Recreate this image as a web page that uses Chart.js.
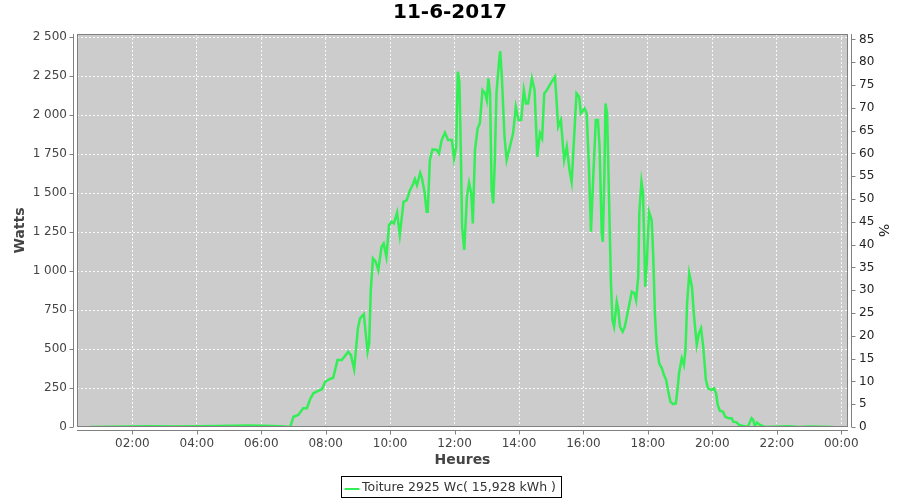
<!DOCTYPE html>
<html><head><meta charset="utf-8">
<script src="https://cdn.jsdelivr.net/npm/chart.js@4.4.0/dist/chart.umd.min.js"></script>
<style>html,body{margin:0;padding:0;background:#fff}canvas{display:block}</style>
</head><body>
<canvas id="c" width="900" height="500"></canvas>
<script>
const chartTitle = '11-6-2017';
const seriesLabel = 'Toiture 2925 Wc( 15,928 kWh )';
const xTitle = 'Heures';
const yTitle = 'Watts';
const y2Title = '%';

const times = [
  "00:41","02:33","03:19","04:06","05:07","05:35","06:03","06:35","06:54","07:00",
  "07:09","07:18","07:25","07:31","07:37","07:46","07:53","07:59","08:08","08:14",
  "08:22","08:30","08:42","08:47","08:53","09:00","09:04","09:11","09:18","09:21",
  "09:24","09:28","09:33","09:38","09:44","09:48","09:53","09:58","10:03","10:07",
  "10:13","10:18","10:25","10:31","10:37","10:43","10:46","10:50","10:56","10:59",
  "11:04","11:08","11:10","11:14","11:19","11:27","11:31","11:36","11:42","11:48",
  "11:55","11:59","12:03","12:06","12:09","12:12","12:14","12:18","12:23","12:27",
  "12:31","12:34","12:38","12:43","12:47","12:52","12:57","13:00","13:03","13:06",
  "13:09","13:12","13:15","13:18","13:23","13:25","13:28","13:33","13:37","13:43",
  "13:49","13:54","13:59","14:04","14:09","14:13","14:17","14:24","14:29","14:34",
  "14:39","14:43","14:47","14:52","14:59","15:07","15:13","15:18","15:24","15:29",
  "15:34","15:38","15:42","15:47","15:52","15:55","16:02","16:06","16:10","16:14",
  "16:18","16:23","16:27","16:30","16:34","16:36","16:39","16:41","16:44","16:48",
  "16:51","16:54","16:57","17:02","17:05","17:08","17:13","17:17","17:22","17:27",
  "17:30","17:35","17:38","17:42","17:44","17:48","17:51","17:55","17:58","18:02",
  "18:07","18:10","18:13","18:16","18:21","18:26","18:30","18:34","18:38","18:42",
  "18:47","18:52","18:55","18:58","19:03","19:07","19:10","19:13","19:17","19:22",
  "19:26","19:31","19:35","19:39","19:43","19:48","19:52","19:59","20:03","20:07",
  "20:10","20:14","20:20","20:24","20:30","20:36","20:39","20:45","20:50","20:58",
  "21:06","21:13","21:16","21:19","21:23","21:29","21:38","22:21","22:43","23:02",
  "23:45"
];
const watts = [
  0,5,4,5,8,10,8,5,0,66,
  77,120,120,178,216,231,242,290,308,316,
  429,429,483,461,370,633,697,724,483,536,
  878,1081,1060,1006,1156,1177,1092,1295,1316,1305,
  1374,1231,1444,1455,1519,1560,1590,1550,1630,1600,
  1508,1380,1380,1712,1780,1776,1754,1840,1887,1840,
  1840,1722,1797,2278,2213,1712,1284,1135,1476,1566,
  1498,1305,1776,1915,1946,2160,2139,2096,2235,2139,
  1519,1434,1712,2139,2352,2410,2246,1861,1712,1797,
  1883,2053,1968,1968,2160,2075,2075,2235,2160,1733,
  1883,1851,2139,2160,2203,2246,1925,1968,1712,1797,
  1647,1572,1819,2139,2117,2011,2043,2011,1690,1252,
  1583,1968,1968,1797,1242,1188,1626,2075,2011,1412,
  942,686,643,803,750,643,611,643,729,814,
  867,857,814,963,1370,1572,1498,899,1050,1380,
  1327,1092,729,536,408,376,333,301,226,162,
  147,151,237,344,440,397,494,793,985,899,
  707,526,601,633,515,301,248,237,248,216,
  141,104,98,66,56,56,34,30,13,6,
  0,56,45,6,28,13,0,5,0,4,
  0
];
const hourTicks = [2,4,6,8,10,12,14,16,18,20,22,24];
const wattTicks = [0,250,500,750,1000,1250,1500,1750,2000,2250,2500];
const pctTicks = [0,5,10,15,20,25,30,35,40,45,50,55,60,65,70,75,80,85];

const FONT = "'DejaVu Sans', sans-serif";
Chart.defaults.font.family = FONT;

function toHours(s){ const [h,m] = s.split(':').map(Number); return h + m/60; }
const points = times.map((t,i)=>({x:toHours(t), y:watts[i]}));

function fmtHour(v){ const h = Math.round(v) % 24; return (h<10?'0':'')+h+':00'; }
function fmtWatt(v){ if (v>=1000){ const r = v%1000; return Math.floor(v/1000)+' '+String(r).padStart(3,'0'); } return String(v); }

const LINE_COLOR = '#33ee55';

const framePlugin = {
  id:'frame',
  beforeDraw(chart){
    const {ctx, chartArea:a} = chart;
    ctx.save();
    ctx.fillStyle = '#cccccc';
    ctx.fillRect(a.left, a.top, a.right-a.left, a.bottom-a.top);
    ctx.restore();
  },
  afterDraw(chart){
    const {ctx, chartArea:a, scales} = chart;
    ctx.save();
    ctx.strokeStyle = '#808080';
    ctx.lineWidth = 1;
    ctx.strokeRect(a.left+0.5, a.top+0.5, a.right-a.left-1, a.bottom-a.top-1);
    const gap = 4, tl = 4;
    ctx.beginPath();
    const lx = a.left - gap + 0.5;
    ctx.moveTo(lx, a.top); ctx.lineTo(lx, a.bottom);
    scales.y.ticks.forEach(t=>{ const y = Math.round(scales.y.getPixelForValue(t.value)) + 0.5; ctx.moveTo(lx - tl, y); ctx.lineTo(lx, y); });
    const rx = a.right + gap - 0.5;
    ctx.moveTo(rx, a.top); ctx.lineTo(rx, a.bottom);
    scales.y2.ticks.forEach(t=>{ const y = Math.round(scales.y2.getPixelForValue(t.value)) + 0.5; ctx.moveTo(rx, y); ctx.lineTo(rx + tl, y); });
    const by = a.bottom + gap - 0.5;
    ctx.moveTo(a.left, by); ctx.lineTo(a.right, by);
    scales.x.ticks.forEach(t=>{ const x = Math.round(scales.x.getPixelForValue(t.value)) + 0.5; ctx.moveTo(x, by); ctx.lineTo(x, by + tl); });
    ctx.stroke();

    // legend
    ctx.font = '12.5px ' + FONT;
    const w = ctx.measureText(seriesLabel).width;
    const boxW = Math.round(3 + 15 + 3 + w + 5);
    const bx = Math.round(450.5 - boxW/2) + 0.5;
    const byTop = 476.5, bh = 21;
    ctx.strokeStyle = '#000';
    ctx.strokeRect(bx, byTop, boxW, bh);
    ctx.fillStyle = LINE_COLOR;
    ctx.fillRect(bx + 3, 488, 15, 2);
    ctx.fillStyle = '#333';
    ctx.textBaseline = 'middle';
    ctx.textAlign = 'left';
    ctx.fillText(seriesLabel, bx + 20.5, 488);
    ctx.restore();
  }
};

function fixTicks(arr){ return function(scale){ scale.ticks = arr.map(v=>({value:v})); }; }

new Chart(document.getElementById('c'), {
  type:'line',
  data:{ datasets:[{
    label: seriesLabel,
    data: points,
    borderColor: LINE_COLOR,
    backgroundColor: LINE_COLOR,
    borderWidth: 2.5,
    pointRadius: 0,
    tension: 0,
    fill: false,
    yAxisID: 'y',
    xAxisID: 'x'
  }]},
  options:{
    responsive:false,
    animation:false,
    events:[],
    layout:{ padding:{ left:0, right:0, top:0, bottom:27 } },
    plugins:{
      legend:{ display:false },
      tooltip:{ enabled:false },
      title:{ display:true, text: chartTitle, color:'#000',
        font:{ family: FONT, size:20, weight:'bold' }, padding:{ top:1, bottom:9 } }
    },
    scales:{
      x:{
        type:'linear', position:'bottom', min:0.282, max:24.21,
        afterBuildTicks: fixTicks(hourTicks),
        afterFit(s){ s.height = 46; },
        grid:{ color:'rgba(255,255,255,0.9)', lineWidth:1, tickLength:8, tickColor:'rgba(0,0,0,0)' },
        border:{ display:false, dash:[2,2] },
        ticks:{ color:'#444', font:{ size:12, family: FONT }, padding:2, maxRotation:0, autoSkip:false, callback:(v)=>fmtHour(v) },
        title:{ display:true, text: xTitle, color:'#444', font:{ size:14, weight:'bold', family: FONT }, padding:{ top:0, bottom:4 } }
      },
      y:{
        type:'linear', position:'left', min:0, max:2520,
        afterBuildTicks: fixTicks(wattTicks),
        afterFit(s){ s.width = 77; },
        grid:{ color:'rgba(255,255,255,0.9)', lineWidth:1, tickLength:8, tickColor:'rgba(0,0,0,0)' },
        border:{ display:false, dash:[2,2] },
        ticks:{ color:'#444', font:{ size:12, family: FONT }, padding:2, autoSkip:false, callback:(v)=>fmtWatt(v) },
        title:{ display:true, text: yTitle, color:'#444', font:{ size:14, weight:'bold', family: FONT }, padding:{ top:12, bottom:0 } }
      },
      y2:{
        type:'linear', position:'right', min:0, max:86.2,
        afterBuildTicks: fixTicks(pctTicks),
        afterFit(s){ s.width = 52; },
        grid:{ drawOnChartArea:false, tickLength:8, tickColor:'rgba(0,0,0,0)' },
        border:{ display:false },
        ticks:{ color:'#222', font:{ size:12, family: FONT }, padding:3, autoSkip:false, callback:(v)=>String(v) },
        title:{ display:true, text: y2Title, color:'#222', font:{ size:14, family: FONT }, padding:{ top:9, bottom:0 } }
      }
    }
  },
  plugins:[framePlugin]
});
</script>
</body></html>
